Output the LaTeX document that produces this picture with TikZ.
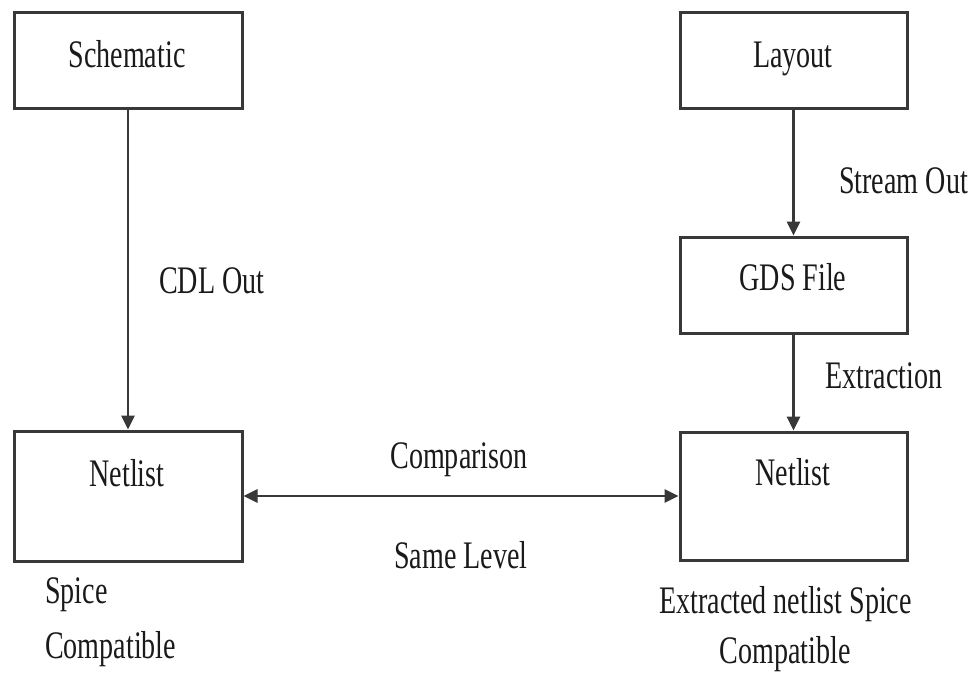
\documentclass[tikz,border=0pt]{standalone}
\usepackage{fontspec}
\setmainfont[FakeStretch=0.72]{Liberation Serif}
\usetikzlibrary{arrows.meta}
\definecolor{linec}{HTML}{383838}
\definecolor{textc}{HTML}{1A1A1A}
\begin{document}
\begin{tikzpicture}[x=1pt,y=-1pt,
  box/.style={draw=linec, line width=3pt, fill=white, inner sep=0pt},
  txt/.style={text=textc, font=\fontsize{39pt}{46pt}\selectfont, inner sep=0pt},
  conn/.style={draw=linec, line width=2.8pt},
  tip/.style={-{Triangle[length=14pt,width=13pt]}},
  dtip/.style={{Triangle[length=14pt,width=13pt]}-{Triangle[length=14pt,width=13pt]}}]
\useasboundingbox (0,0) rectangle (977,672);
% boxes
\node[box, minimum width=228pt, minimum height=96pt] (sch) at (128,60) {};
\node[box, minimum width=227pt, minimum height=96pt] (lay) at (793.5,60) {};
\node[box, minimum width=227pt, minimum height=96pt] (gds) at (793.5,285) {};
\node[box, minimum width=228pt, minimum height=130pt] (nl) at (128,496) {};
\node[box, minimum width=227pt, minimum height=128pt] (nr) at (793.5,496) {};
% box texts
\node[txt, anchor=base] (tsch) at (127,67) {Schematic};
\node[txt, anchor=base] (tlay) at (793,67) {Layout};
\node[txt, anchor=base] (tgds) at (793,290) {GDS File};
\node[txt, anchor=base] (tnl) at (127,486) {Netlist};
\node[txt, anchor=base] (tnr) at (793,485) {Netlist};
% connectors
\draw[conn, tip] (sch.south) -- (nl.north);
\draw[conn, tip] (lay.south) -- (gds.north);
\draw[conn, tip] (gds.south) -- (nr.north);
\draw[conn, dtip] (nl.east) -- (nr.west);
% connector labels
\node[txt, anchor=base west] (lcdl) at (159,293) {CDL Out};
\node[txt, anchor=base west] (lstr) at (839,193) {Stream Out};
\node[txt, anchor=base west] (lext) at (825,388) {Extraction};
\node[txt, anchor=base] (lcmp) at (459,468) {Comparison};
\node[txt, anchor=base] (lsame) at (461,568) {Same Level};
% notes under netlists
\node[txt, anchor=base west] (nsp1) at (45,603) {Spice};
\node[txt, anchor=base west] (nsp2) at (45,658) {Compatible};
\node[txt, anchor=base] (nex1) at (785.5,613) {Extracted netlist Spice};
\node[txt, anchor=base] (nex2) at (785,663) {Compatible};
\end{tikzpicture}
\end{document}
